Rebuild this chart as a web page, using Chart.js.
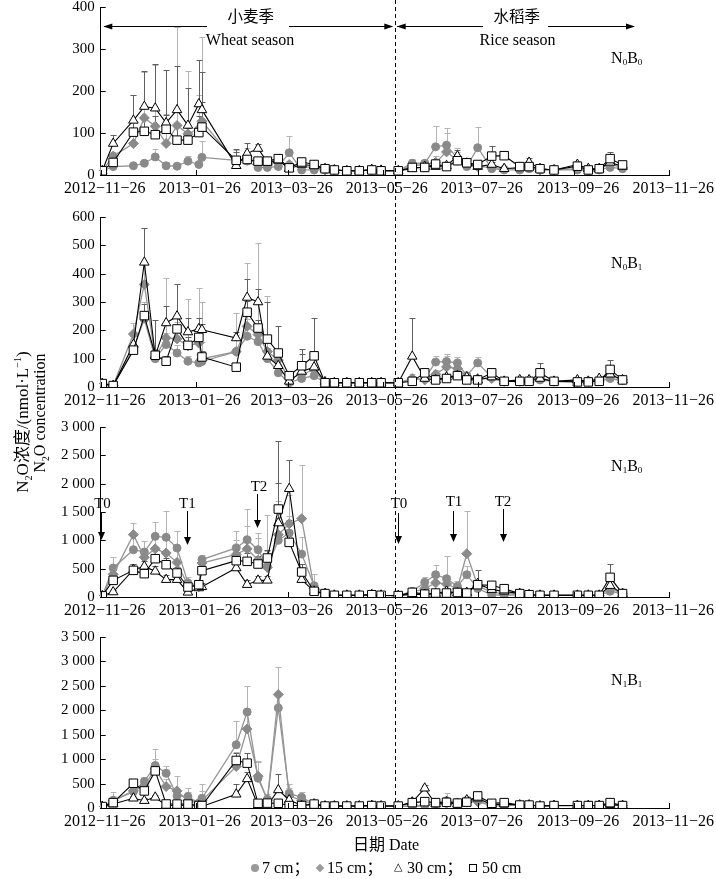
<!DOCTYPE html>
<html>
<head>
<meta charset="utf-8">
<title>N2O concentration</title>
<script src="https://cdn.jsdelivr.net/npm/chart.js@4.4.1/dist/chart.umd.min.js"></script>
<style>
  html, body { margin: 0; padding: 0; background: #fff; }
  body { width: 716px; height: 879px; position: relative; overflow: hidden;
         font-family: "Liberation Serif", "Noto Sans CJK SC", serif; color: #000; }
  .panel { position: absolute; left: 0; width: 716px; height: 210px; }
  .rot { position: absolute; white-space: nowrap; transform: translate(-50%, -50%) rotate(-90deg); }
  .lbl { position: absolute; white-space: nowrap; font-size: 16px; line-height: 20px; }
  sub, sup { font-size: 60%; line-height: 0; }
  .mk { position: absolute; box-sizing: border-box; }
</style>
</head>
<body>
<div class="panel" style="top:0px"><canvas id="p1"></canvas></div>
<div class="panel" style="top:210px"><canvas id="p2"></canvas></div>
<div class="panel" style="top:420px"><canvas id="p3"></canvas></div>
<div class="panel" style="top:630px"><canvas id="p4"></canvas></div>

<div class="rot" style="left:20px; top:422px; font-size:17px">N<sub>2</sub>O浓度/(nmol·L<sup>−1</sup>)</div>
<div class="rot" style="left:40px; top:413px; font-size:16px">N<sub>2</sub>O concentration</div>
<div class="lbl" style="left:353px; top:835px">日期 Date</div>

<div class="mk" style="left:251px; top:864px; width:8px; height:8px; border-radius:50%; background:#9a9a9a"></div>
<div class="lbl" style="left:262px; top:858px">7 cm；</div>
<div class="mk" style="left:317px; top:865px; width:6px; height:6px; background:#9a9a9a; transform:rotate(45deg)"></div>
<div class="lbl" style="left:327px; top:858px">15 cm；</div>
<div class="lbl" style="left:394px; top:857px; font-family:'DejaVu Sans'; font-size:11px">△</div>
<div class="lbl" style="left:407px; top:858px">30 cm；</div>
<div class="mk" style="left:469px; top:864px; width:8px; height:8px; border:1px solid #000; background:#fff"></div>
<div class="lbl" style="left:482px; top:858px">50 cm</div>

<script>
// sampling dates (same for all four treatments)
const sampleDates = ['2012-11-27','2012-12-04','2012-12-17','2012-12-24','2012-12-31','2013-01-07','2013-01-14','2013-01-21','2013-01-28','2013-01-30',
  '2013-02-21','2013-02-28','2013-03-07','2013-03-13','2013-03-20','2013-03-27','2013-04-04','2013-04-12','2013-04-19','2013-04-25',
  '2013-05-03','2013-05-11','2013-05-19','2013-05-25','2013-06-05','2013-06-14','2013-06-22','2013-06-29','2013-07-06','2013-07-13',
  '2013-07-19','2013-07-26','2013-08-04','2013-08-12','2013-08-22','2013-08-28','2013-09-04','2013-09-13','2013-09-28','2013-10-05',
  '2013-10-12','2013-10-19','2013-10-27'];

const startDate = '2012-11-26';
const tickDates = ['2012-11-26','2013-01-26','2013-03-26','2013-05-26','2013-07-26','2013-09-26','2013-11-26'];
const tickLabels = ['2012−11−26','2013−01−26','2013−03−26','2013−05−26','2013−07−26','2013−09−26','2013−11−26'];
const seasonSplit = '2013-06-03';

// N0B0
const n0b0_7  = [10,20,22,28,43,22,21,33,25,42, 35,33,18,18,20,53,12,12,12,12, 10,10,12,10,10,28,28,67,71,40, 20,65,15,12,12,15,12,12,12,10, 12,18,15];
const n0b0_15 = [10,45,75,136,116,75,118,98,110,128, 30,40,25,28,30,25,20,18,12,12, 10,10,12,10,10,22,25,30,55,35, 25,20,18,15,15,18,12,12,15,12, 15,25,18];
const n0b0_30 = [10,75,130,163,159,124,155,118,169,155, 22,51,63,30,35,15,25,22,15,12, 10,10,13,11,10,15,20,20,22,45, 28,20,25,15,18,30,15,12,25,15, 15,30,20];
const n0b0_50 = [10,30,102,104,96,109,83,83,101,114, 35,37,33,33,39,17,31,25,15,12, 10,10,12,10,10,18,18,26,20,34, 29,25,45,46,20,20,15,12,21,12, 15,39,24];
const n0b0_7e  = [3,5,5,8,20,10,8,12,8,40, 10,8,5,5,5,40,3,3,3,2, 2,2,2,2,2,10,8,50,40,25, 8,50,5,3,3,4,3,2,3,2, 3,8,4];
const n0b0_15e = [3,10,115,110,145,70,235,150,80,200, 30,25,10,8,10,8,5,4,3,2, 2,2,2,2,2,8,8,15,45,20, 10,8,5,4,4,6,3,2,4,3, 4,10,5];
const n0b0_30e = [3,20,60,85,105,125,105,90,105,90, 40,25,10,10,8,5,6,5,3,2, 2,2,2,2,2,5,5,6,8,15, 8,5,6,4,5,10,3,2,6,3, 4,12,5];
const n0b0_50e = [3,8,25,30,45,35,40,30,40,60, 20,10,10,8,10,4,8,6,3,2, 2,2,2,2,2,4,4,8,6,10, 6,6,25,10,5,5,3,2,5,3, 3,15,5];

// N0B1
const n0b1_7  = [12,5,135,240,100,150,120,91,85,90, 125,179,160,100,50,15,30,40,15,15, 15,15,15,15,15,25,30,88,90,85, 40,85,35,20,20,20,25,20,20,18, 20,30,22];
const n0b1_15 = [12,5,187,362,105,173,170,145,155,100, 125,214,185,125,95,30,45,60,15,15, 15,15,15,15,15,30,25,45,71,65, 35,30,30,20,20,22,30,20,20,20, 25,40,25];
const n0b1_30 = [12,5,150,440,110,226,250,194,205,202, 173,316,300,108,75,20,55,70,18,15, 15,15,15,15,15,108,30,25,35,40, 35,25,35,20,25,25,30,20,25,20, 30,45,25];
const n0b1_50 = [12,5,130,252,112,91,205,147,175,106, 70,264,208,169,120,40,75,110,15,15, 15,15,15,15,15,20,50,25,30,40, 25,25,50,20,20,20,50,20,18,18, 20,62,25];
const n0b1_7e  = [3,2,20,60,20,40,30,20,30,210, 135,60,60,220,30,8,20,30,4,3, 3,3,3,3,3,10,10,20,25,20, 10,20,8,5,5,5,6,4,4,4, 5,10,5];
const n0b1_15e = [3,2,40,200,30,210,60,165,195,60, 60,225,325,60,40,10,25,40,4,3, 3,3,3,3,3,15,8,15,40,25, 10,10,8,5,5,5,8,4,4,4, 5,30,5];
const n0b1_30e = [3,2,30,120,20,60,115,50,40,20, 20,65,45,30,20,5,60,30,4,3, 3,3,3,3,3,137,10,8,10,10, 8,6,8,5,6,6,8,4,6,4, 6,15,6];
const n0b1_50e = [3,2,20,40,125,20,40,30,30,20, 15,40,30,130,95,8,60,135,4,3, 3,3,3,3,3,5,12,6,8,10, 6,6,15,5,5,5,35,4,4,4, 5,33,6];

// N1B0
const n1b0_7  = [20,512,835,794,1070,1053,864,250,200,660, 865,1011,835,540,1000,1129,758,200,60,30, 30,30,40,30,25,100,259,394,323,188, 394,150,40,30,40,30,30,30,30,30, 30,100,60];
const n1b0_15 = [20,400,1100,700,850,776,611,200,180,600, 750,850,650,520,1100,1293,1382,150,60,30, 30,30,40,30,25,80,150,250,229,150, 764,200,80,60,50,35,30,30,30,30, 30,150,60];
const n1b0_30 = [20,88,482,540,453,306,306,82,159,180, 512,218,294,294,1305,1911,306,100,60,30, 30,30,40,30,25,50,40,60,100,70, 80,235,130,100,60,40,30,30,30,30, 30,200,60];
const n1b0_50 = [20,294,470,412,676,570,423,176,217,465, 641,629,582,688,1552,964,441,100,60,30, 30,30,40,30,25,82,50,70,70,80, 70,217,206,147,60,40,30,30,30,30, 30,347,60];
const n1b0_7e  = [10,200,250,200,250,470,300,100,80,80, 300,550,300,900,300,300,300,200,20,10, 10,10,10,10,10,40,100,170,400,100, 150,80,20,10,10,10,10,10,10,10, 10,50,20];
const n1b0_15e = [10,150,200,150,200,300,250,80,60,100, 250,400,400,300,600,500,950,100,20,10, 10,10,10,10,10,30,60,100,150,80, 750,100,30,20,20,10,10,10,10,10, 10,80,20];
const n1b0_30e = [10,40,100,100,100,80,80,40,40,60, 100,80,80,80,700,500,100,60,20,10, 10,10,10,10,10,20,20,30,40,30, 40,250,50,40,20,10,10,10,10,10, 10,100,20];
const n1b0_50e = [10,80,120,100,150,120,100,50,60,100, 150,150,150,150,1200,400,150,60,20,10, 10,10,10,10,10,20,20,30,30,30, 30,80,60,50,20,10,10,10,10,10, 10,230,20];

// N1B1
const n1b1_7  = [30,150,335,541,870,712,250,233,100,199, 1295,1966,610,178,2048,301,219,80,40,40, 40,40,50,40,40,30,50,100,150,120, 150,150,40,50,60,60,40,50,50,50, 50,60,50];
const n1b1_15 = [30,150,350,450,800,438,350,150,100,150, 850,1617,650,150,2322,250,150,80,40,40, 40,40,50,40,40,40,60,80,100,90, 120,130,50,60,60,60,40,50,50,50, 50,70,50];
const n1b1_30 = [30,80,199,150,219,50,50,50,40,30, 281,596,50,50,370,164,50,80,40,40, 40,40,50,40,40,120,404,80,120,80, 164,200,70,80,60,60,40,50,50,50, 50,70,50];
const n1b1_50 = [30,110,507,349,760,82,80,80,50,50, 973,918,96,100,96,50,50,80,40,40, 40,40,50,40,40,110,130,110,116,100, 120,247,96,110,60,60,40,50,50,50, 50,110,50];
const n1b1_7e  = [10,180,80,100,330,150,100,100,50,300, 480,530,350,100,300,200,100,30,10,10, 10,10,10,10,10,10,20,40,150,60, 100,200,20,10,10,10,10,10,10,10, 10,30,10];
const n1b1_15e = [10,100,80,100,200,150,300,250,80,200, 300,400,300,80,560,150,100,30,10,10, 10,10,10,10,10,10,20,30,80,50, 80,100,20,10,10,10,10,10,10,10, 10,20,10];
const n1b1_30e = [10,20,40,50,50,20,20,20,20,20, 200,150,20,20,330,100,20,20,10,10, 10,10,10,10,10,20,70,20,40,20, 50,60,20,10,10,10,10,10,10,10, 10,20,10];
const n1b1_50e = [10,30,60,80,80,30,30,30,20,20, 150,200,30,30,30,20,20,20,10,10, 10,10,10,10,10,20,30,20,40,20, 40,80,20,10,10,10,10,10,10,10, 10,40,10];

const DAY = 86400000;
function dayOf(d) { return Math.round((Date.parse(d) - Date.parse(startDate)) / DAY); }
const sampleDays = sampleDates.map(dayOf);
const tickDays = tickDates.map(dayOf);

const SERIF = "'Liberation Serif', serif";
const CJK = "'Noto Sans CJK SC', sans-serif";

const seriesStyle = [
    { label: '7 cm',  shape: 'circle',  r: 4,   fill: '#8a8a8a', edge: '#8a8a8a', line: '#959595', err: '#b4b4b4', order: 3 },
    { label: '15 cm', shape: 'rectRot', r: 5,   fill: '#8a8a8a', edge: '#8a8a8a', line: '#959595', err: '#b4b4b4', order: 2 },
    { label: '30 cm', shape: 'triangle',r: 5.5, fill: '#ffffff', edge: '#000000', line: '#000000', err: '#606060', order: 1 },
    { label: '50 cm', shape: 'rect',    r: 6,   fill: '#ffffff', edge: '#000000', line: '#000000', err: '#606060', order: 0 }
];

function buildDatasets(values, errs)
{
    return seriesStyle.map(function(s, k) {
        return {
            label: s.label,
            data: sampleDays.map((d, j) => ({ x: d, y: values[k][j] })),
            errs: errs[k],
            errColor: s.err,
            order: s.order,
            borderColor: s.line,
            borderWidth: s.fill === '#ffffff' ? 1.1 : 1.3,
            backgroundColor: s.fill,
            pointStyle: s.shape,
            pointRadius: s.r,
            pointBackgroundColor: s.fill,
            pointBorderColor: s.edge,
            pointBorderWidth: 1,
            tension: 0,
            fill: false
        };
    });
}

// upward error bars, drawn under the markers
const errorBars = {
    id: 'errorBars',
    beforeDatasetsDraw(chart) {
        const ctx = chart.ctx, x = chart.scales.x, y = chart.scales.y;
        ctx.save();
        chart.data.datasets.forEach(function(ds) {
            ctx.strokeStyle = ds.errColor;
            ctx.lineWidth = 1;
            ds.data.forEach(function(pt, j) {
                const e = ds.errs[j];
                if (!e) return;
                const px = Math.round(x.getPixelForValue(pt.x)) + 0.5;
                const y0 = y.getPixelForValue(pt.y);
                const y1 = Math.round(y.getPixelForValue(pt.y + e)) + 0.5;
                ctx.beginPath();
                ctx.moveTo(px, y0); ctx.lineTo(px, y1);
                ctx.moveTo(px - 3, y1); ctx.lineTo(px + 3, y1);
                ctx.stroke();
            });
        });
        ctx.restore();
    }
};

function drawSubName(ctx, parts, cx, base)
{
    const big = '16px ' + SERIF, small = '9px ' + SERIF;
    let w = 0;
    parts.forEach(function(p) { ctx.font = p[1] ? small : big; w += ctx.measureText(p[0]).width; });
    let xx = cx - w / 2;
    ctx.textAlign = 'left';
    ctx.textBaseline = 'alphabetic';
    parts.forEach(function(p) {
        ctx.font = p[1] ? small : big;
        ctx.fillText(p[0], xx, base + (p[1] ? 2 : 0));
        xx += ctx.measureText(p[0]).width;
    });
}

function hArrow(ctx, tx, ty, dir)
{
    ctx.beginPath();
    ctx.moveTo(tx, ty);
    ctx.lineTo(tx - dir * 9, ty - 3);
    ctx.lineTo(tx - dir * 9, ty + 3);
    ctx.closePath();
    ctx.fill();
}

function makeDecor(cfg)
{
    return {
        id: 'decor',
        afterDraw(chart) {
            const ctx = chart.ctx, x = chart.scales.x, y = chart.scales.y, a = chart.chartArea;
            ctx.save();
            ctx.strokeStyle = '#000';
            ctx.fillStyle = '#000';
            ctx.lineWidth = 1;
            // inward tick marks
            ctx.beginPath();
            x.ticks.forEach(function(t) {
                const px = Math.round(x.getPixelForValue(t.value)) + 0.5;
                ctx.moveTo(px, a.bottom); ctx.lineTo(px, a.bottom - 5);
            });
            y.ticks.forEach(function(t) {
                const py = Math.round(y.getPixelForValue(t.value)) + 0.5;
                ctx.moveTo(a.left, py); ctx.lineTo(a.left + 5, py);
            });
            ctx.stroke();

            // wheat / rice split
            const sx = Math.round(x.getPixelForValue(dayOf(seasonSplit))) + 0.5;
            ctx.setLineDash([4, 3]);
            ctx.beginPath();
            ctx.moveTo(sx, 0);
            ctx.lineTo(sx, cfg.last ? a.bottom : chart.height);
            ctx.stroke();
            ctx.setLineDash([]);

            drawSubName(ctx, cfg.name, 626.7, cfg.nameBase);

            if (cfg.seasons) {
                ctx.beginPath();
                ctx.moveTo(104, 26.5); ctx.lineTo(207, 26.5);
                ctx.moveTo(289, 26.5); ctx.lineTo(392, 26.5);
                ctx.moveTo(397, 26.5); ctx.lineTo(483, 26.5);
                ctx.moveTo(548, 26.5); ctx.lineTo(634, 26.5);
                ctx.stroke();
                hArrow(ctx, 103.3, 26.5, -1);
                hArrow(ctx, 393.3, 26.5, 1);
                hArrow(ctx, 396.7, 26.5, -1);
                hArrow(ctx, 635, 26.5, 1);
                ctx.textAlign = 'center';
                ctx.textBaseline = 'middle';
                ctx.font = '15.5px ' + CJK;
                ctx.fillText('小麦季', 250.7, 16.5);
                ctx.fillText('水稻季', 516.7, 16.5);
                ctx.textBaseline = 'alphabetic';
                ctx.font = '16px ' + SERIF;
                ctx.fillText('Wheat season', 250, 44.5);
                ctx.fillText('Rice season', 517.5, 44.5);
            }

            if (cfg.tmarks) {
                ctx.textAlign = 'center';
                ctx.textBaseline = 'alphabetic';
                ctx.font = '15px ' + SERIF;
                cfg.tmarks.forEach(function(m) {
                    ctx.fillText(m.t, m.lx, m.base);
                    const px = Math.round(m.x) + 0.5;
                    ctx.beginPath();
                    ctx.moveTo(px, m.y0); ctx.lineTo(px, m.y1 - 6);
                    ctx.stroke();
                    ctx.beginPath();
                    ctx.moveTo(px, m.y1);
                    ctx.lineTo(px - 3.5, m.y1 - 8);
                    ctx.lineTo(px + 3.5, m.y1 - 8);
                    ctx.closePath();
                    ctx.fill();
                });
            }
            ctx.restore();
        }
    };
}

function fmtTick(v)
{
    return v >= 1000 ? String(v).replace(/\B(?=(\d{3})+$)/g, ' ') : String(v);
}

function makePanel(id, values, errs, ymax, step, padBottom, cfg)
{
    new Chart(document.getElementById(id), {
        type: 'line',
        data: { datasets: buildDatasets(values, errs) },
        options: {
            responsive: true,
            maintainAspectRatio: false,
            animation: false,
            events: [],
            layout: { padding: { top: 7, bottom: padBottom, left: 0, right: 46.7 } },
            plugins: { legend: { display: false }, tooltip: { enabled: false } },
            scales: {
                x: {
                    type: 'linear', min: 0, max: tickDays[tickDays.length - 1],
                    grid: { display: false, drawTicks: false },
                    border: { display: true, color: '#000', width: 1 },
                    afterBuildTicks: s => { s.ticks = tickDays.map(v => ({ value: v })); },
                    afterFit: s => { s.height = 28; s.paddingLeft = 0; s.paddingRight = 0; },
                    ticks: {
                        autoSkip: false, maxRotation: 0, padding: 4, labelOffset: 4,
                        color: '#000', font: { family: SERIF, size: 16 },
                        callback: (v, i) => tickLabels[i]
                    }
                },
                y: {
                    min: 0, max: ymax,
                    grid: { display: false, drawTicks: false },
                    border: { display: true, color: '#000', width: 1 },
                    afterFit: s => { s.width = 100.7; s.paddingTop = 0; s.paddingBottom = 0; },
                    ticks: {
                        stepSize: step, padding: 6,
                        color: '#000', font: { family: SERIF, size: 15 },
                        callback: v => fmtTick(v)
                    }
                }
            }
        },
        plugins: [errorBars, makeDecor(cfg)]
    });
}

makePanel('p1', [n0b0_7, n0b0_15, n0b0_30, n0b0_50], [n0b0_7e, n0b0_15e, n0b0_30e, n0b0_50e], 400, 100, 7,
    { name: [['N',0],['0',1],['B',0],['0',1]], nameBase: 63.3, seasons: true });

makePanel('p2', [n0b1_7, n0b1_15, n0b1_30, n0b1_50], [n0b1_7e, n0b1_15e, n0b1_30e, n0b1_50e], 600, 100, 5,
    { name: [['N',0],['0',1],['B',0],['1',1]], nameBase: 57.7 });

makePanel('p3', [n1b0_7, n1b0_15, n1b0_30, n1b0_50], [n1b0_7e, n1b0_15e, n1b0_30e, n1b0_50e], 3000, 500, 5,
    { name: [['N',0],['1',1],['B',0],['0',1]], nameBase: 51,
      tmarks: [
        { t: 'T0', x: 100.7, lx: 102.5, base: 88,   y0: 93, y1: 120 },
        { t: 'T1', x: 187.3, lx: 187.3, base: 88,   y0: 91, y1: 125 },
        { t: 'T2', x: 257.3, lx: 259,   base: 70.7, y0: 74, y1: 108 },
        { t: 'T0', x: 398.3, lx: 399,   base: 87.7, y0: 93, y1: 124 },
        { t: 'T1', x: 453.3, lx: 454,   base: 86,   y0: 91, y1: 122 },
        { t: 'T2', x: 502.7, lx: 503,   base: 86,   y0: 89, y1: 122 }
      ] });

makePanel('p4', [n1b1_7, n1b1_15, n1b1_30, n1b1_50], [n1b1_7e, n1b1_15e, n1b1_30e, n1b1_50e], 3500, 500, 4,
    { name: [['N',0],['1',1],['B',0],['1',1]], nameBase: 55, last: true });
</script>
</body>
</html>
